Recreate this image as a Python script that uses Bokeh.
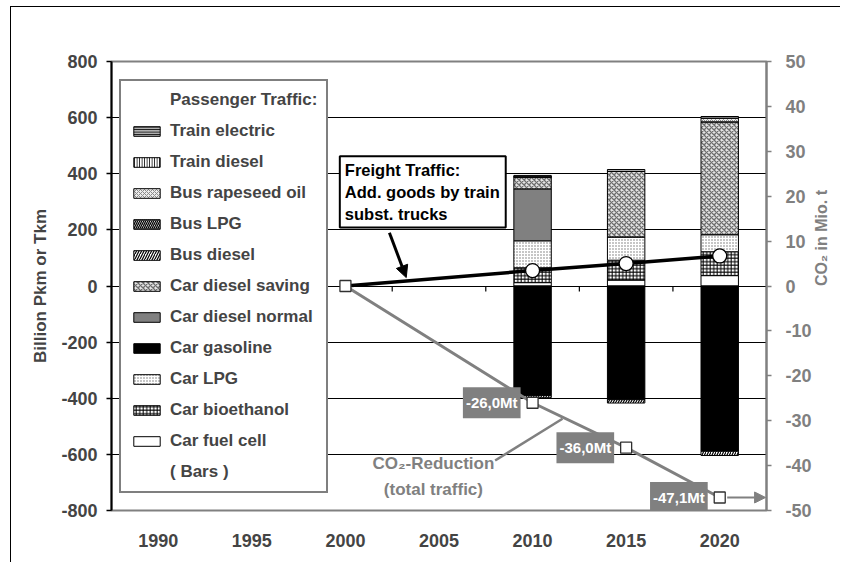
import math
from bokeh.plotting import figure
from bokeh.models import (Range1d, LinearAxis, FixedTicker, Legend, LegendItem, Label,
                          Arrow, NormalHead, ColumnDataSource)
from bokeh.embed import file_html
from bokeh.resources import INLINE

FONT = "Liberation Sans"
GRAY = "#808080"

# ---------------- data ----------------
axis_years = [1990, 1995, 2000, 2005, 2010, 2015, 2020]
bar_years = [2010, 2015, 2020]

# passenger traffic, billion Pkm (stack order: bottom -> top)
car_fuel_cell = [12, 21, 37]
car_bioethanol = [53, 71, 85]
car_lpg = [96, 83, 61]
car_gasoline = [-390, -405, -589]
car_diesel_normal = [185, 0, 0]
car_diesel_saving = [43, 233, 402]
bus_diesel = [-8, -12, -15]
bus_lpg = [0, 0, 0]
bus_rapeseed_oil = [0, 0, 13]
train_diesel = [0, 0, 0]
train_electric = [5, 7, 6]

series_names = ["Car fuel cell", "Car bioethanol", "Car LPG", "Car gasoline",
                "Car diesel normal", "Car diesel saving", "Bus diesel", "Bus LPG",
                "Bus rapeseed oil", "Train diesel", "Train electric"]
series_values = [car_fuel_cell, car_bioethanol, car_lpg, car_gasoline,
                 car_diesel_normal, car_diesel_saving, bus_diesel, bus_lpg,
                 bus_rapeseed_oil, train_diesel, train_electric]

# freight traffic (additional goods by train), billion Tkm
freight_years = [2000, 2010, 2015, 2020]
freight_tkm = [0, 55, 80, 107]

# CO2 reduction, Mio. t
co2_years = [2000, 2010, 2015, 2020]
co2_reduction = [0.0, -26.0, -36.0, -47.1]

left_ticks = [-800, -600, -400, -200, 0, 200, 400, 600, 800]
right_ticks = [-50, -40, -30, -20, -10, 0, 10, 20, 30, 40, 50]

# ---------------- styles ----------------
styles = {
    "Car fuel cell": dict(fill_color="white"),
    "Car bioethanol": dict(fill_color="white", hatch_pattern="cross", hatch_color="black",
                           hatch_scale=3.5, hatch_weight=1),
    "Car LPG": dict(fill_color="white", hatch_pattern="dot", hatch_color="#707070",
                    hatch_scale=3, hatch_weight=1),
    "Car gasoline": dict(fill_color="black"),
    "Car diesel normal": dict(fill_color=GRAY),
    "Car diesel saving": dict(fill_color="#e4e4e4", hatch_pattern="diagonal_cross",
                              hatch_color="#6e6e6e", hatch_scale=5, hatch_weight=1.3),
    "Bus diesel": dict(fill_color="white", hatch_pattern="right_diagonal_line",
                       hatch_color="black", hatch_scale=5, hatch_weight=1.2),
    "Bus LPG": dict(fill_color="white", hatch_pattern="left_diagonal_line",
                    hatch_color="black", hatch_scale=4, hatch_weight=1.3),
    "Bus rapeseed oil": dict(fill_color="#ececec", hatch_pattern="diagonal_cross",
                             hatch_color="#8a8a8a", hatch_scale=4, hatch_weight=1),
    "Train diesel": dict(fill_color="white", hatch_pattern="vertical_line",
                         hatch_color="black", hatch_scale=2.5, hatch_weight=1),
    "Train electric": dict(fill_color="#b0b0b0", hatch_pattern="horizontal_line",
                           hatch_color="black", hatch_scale=2.5, hatch_weight=1),
}

# ---------------- figure ----------------
p = figure(width=830, height=556, output_backend="svg", toolbar_location=None,
           x_range=Range1d(1987.5, 2022.5), y_range=Range1d(-800, 800),
           min_border_left=100, min_border_right=66, min_border_top=54, min_border_bottom=53)
p.styles = {"margin-left": "11px", "margin-top": "7px",
            "box-shadow": "-1px -1px 0px 0px black"}
p.extra_y_ranges = {"co2": Range1d(-50, 50)}
p.background_fill_color = "white"
p.border_fill_color = "white"
p.outline_line_color = GRAY
p.outline_line_width = 2

p.xgrid.visible = False
p.ygrid.ticker = FixedTicker(ticks=[-600, -400, -200, 0, 200, 400, 600])
p.ygrid.grid_line_color = "black"
p.ygrid.grid_line_width = 1

# left axis
ya = p.yaxis[0]
ya.ticker = FixedTicker(ticks=left_ticks)
ya.major_label_overrides = {t: str(t) for t in left_ticks}
ya.axis_label = "Billion Pkm or Tkm"
ya.axis_label_text_font = FONT
ya.axis_label_text_font_style = "bold"
ya.axis_label_text_font_size = "17px"
ya.axis_label_standoff = 8
ya.major_label_text_font = FONT
ya.major_label_text_font_style = "bold"
ya.major_label_text_font_size = "18px"
ya.major_label_standoff = 9
ya.major_tick_out = 5
ya.major_tick_in = 0
ya.minor_tick_line_color = None
ya.axis_line_width = 2
ya.major_tick_line_width = 1.5

# bottom axis (years)
xa = p.xaxis[0]
xa.ticker = FixedTicker(ticks=axis_years)
xa.major_tick_out = 0
xa.major_tick_in = 0
xa.minor_tick_line_color = None
xa.axis_line_color = None
xa.major_label_standoff = 23
xa.major_label_text_font = FONT
xa.major_label_text_font_style = "bold"
xa.major_label_text_font_size = "18px"

# right axis (CO2)
ra = LinearAxis(y_range_name="co2", ticker=FixedTicker(ticks=right_ticks),
                axis_label="CO\u2082 in Mio. t")
ra.major_label_overrides = {t: str(t) for t in right_ticks}
ra.axis_label_orientation = math.pi / 2
ra.axis_line_color = GRAY
ra.axis_line_width = 2
ra.major_tick_line_color = GRAY
ra.major_tick_line_width = 1.5
ra.major_tick_out = 5
ra.major_tick_in = 0
ra.minor_tick_line_color = None
ra.major_label_standoff = 14
ra.major_label_text_color = GRAY
ra.major_label_text_font = FONT
ra.major_label_text_font_style = "bold"
ra.major_label_text_font_size = "18px"
ra.axis_label_text_color = GRAY
ra.axis_label_text_font = FONT
ra.axis_label_text_font_style = "bold"
ra.axis_label_text_font_size = "16px"
ra.axis_label_standoff = 7
p.add_layout(ra, "right")

# category boundary ticks on the zero line
boundaries = [(a + b) / 2 for a, b in zip(axis_years[:-1], axis_years[1:])]
p.segment(x0=boundaries, y0=[0] * len(boundaries), x1=boundaries,
          y1=[-20] * len(boundaries), line_color="black", line_width=1.2)

# ---------------- stacked bars ----------------
BAR_W = 2.0
pos = [0.0] * len(bar_years)
neg = [0.0] * len(bar_years)
renderers = {}
for name, vals in zip(series_names, series_values):
    tops, bots = [], []
    for i, v in enumerate(vals):
        if v >= 0:
            b, t = pos[i], pos[i] + v
            pos[i] = t
        else:
            t, b = neg[i], neg[i] + v
            neg[i] = b
        tops.append(t); bots.append(b)
    src = ColumnDataSource(dict(x=bar_years, top=tops, bottom=bots))
    renderers[name] = p.vbar(x="x", top="top", bottom="bottom", width=BAR_W, source=src,
                             line_color="black", line_width=1, **styles[name])

# ---------------- lines ----------------
p.line(co2_years, co2_reduction, y_range_name="co2", line_color=GRAY, line_width=3)
p.line(freight_years, freight_tkm, line_color="black", line_width=3.5)
p.scatter(co2_years, co2_reduction, y_range_name="co2", marker="square", size=11,
          fill_color="white", line_color="#303030", line_width=1.3)
p.scatter(freight_years[1:], freight_tkm[1:], marker="circle", size=14,
          fill_color="white", line_color="black", line_width=1.3)

# arrow from last CO2 point to right axis
p.add_layout(Arrow(x_start=co2_years[-1] + 0.4, y_start=co2_reduction[-1],
                   x_end=2022.45, y_end=co2_reduction[-1], y_range_name="co2",
                   line_color=GRAY, line_width=2,
                   end=NormalHead(size=11, fill_color=GRAY, line_color=GRAY)))

# CO2 value labels
for yr, v in zip(co2_years[1:], co2_reduction[1:]):
    txt = ("%.1f" % v).replace(".", ",") + "Mt"
    p.add_layout(Label(x=yr, y=v, y_range_name="co2", text=txt, x_offset=-12,
                       text_align="right", text_baseline="middle",
                       text_color="white", text_font=FONT, text_font_style="bold",
                       text_font_size="15px", background_fill_color=GRAY,
                       padding=dict(left=3, right=3, top=7, bottom=7)))

# CO2-Reduction callout
p.line([2008.0, 2011.6], [-622, -473], line_color=GRAY, line_width=2.5)
p.add_layout(Label(x=2004.7, y=-634, text="CO\u2082-Reduction", text_align="center",
                   text_baseline="middle", text_color=GRAY, text_font=FONT,
                   text_font_style="bold", text_font_size="17px"))
p.add_layout(Label(x=2004.7, y=-725, text="(total traffic)", text_align="center",
                   text_baseline="middle", text_color=GRAY, text_font=FONT,
                   text_font_style="bold", text_font_size="17px"))

# Freight callout
p.add_layout(Label(x=1999.7, y=462, text="Freight Traffic:\nAdd. goods by train\nsubst. trucks",
                   text_align="left", text_baseline="top", text_color="black",
                   text_font=FONT, text_font_style="bold", text_font_size="16.5px",
                   text_line_height=1.2, background_fill_color="white",
                   border_line_color="black", border_line_width=2,
                   padding=dict(left=5, right=6, top=5, bottom=5)))
p.add_layout(Arrow(x_start=2002.35, y_start=190, x_end=2003.25, y_end=30,
                   line_color="black", line_width=3,
                   end=NormalHead(size=12, fill_color="black", line_color="black")))

# ---------------- legend ----------------
dummy = p.vbar(x=[], top=[], width=1, fill_alpha=0, line_alpha=0)
legend_order = list(reversed(series_names))
items = [LegendItem(label="Passenger Traffic:", renderers=[dummy])]
items += [LegendItem(label=n, renderers=[renderers[n]]) for n in legend_order]
items += [LegendItem(label="( Bars )", renderers=[dummy])]
legend = Legend(items=items, location=(8, 17), glyph_width=33, glyph_height=12,
                label_height=20, spacing=11, padding=9, margin=0, label_standoff=7,
                label_text_font=FONT, label_text_font_style="bold",
                label_text_font_size="17px", border_line_color="black",
                border_line_width=2, background_fill_color="white",
                background_fill_alpha=1)
p.add_layout(legend)

open("out.html", "w").write(file_html(p, INLINE))
